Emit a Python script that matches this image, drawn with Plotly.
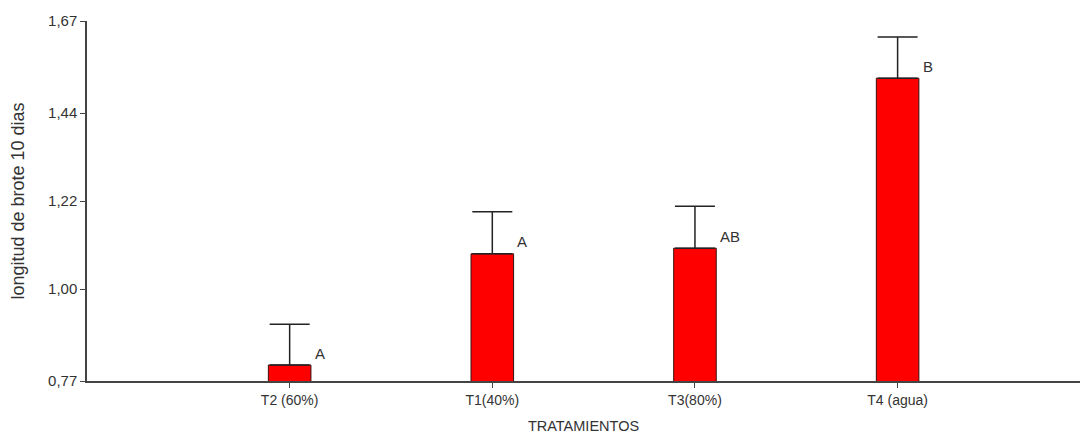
import plotly.graph_objects as go

categories = ["T2 (60%)", "T1(40%)", "T3(80%)", "T4 (agua)"]
means = [0.81, 1.088, 1.102, 1.527]
errors = [0.102, 0.105, 0.105, 0.103]
letters = ["A", "A", "AB", "B"]
ytick_vals = [0.77, 1.00, 1.22, 1.44, 1.67]
ytick_text = ["0,77", "1,00", "1,22", "1,44", "1,67"]

xpos = list(range(len(categories)))

fig = go.Figure()
fig.add_trace(go.Bar(
    x=xpos, y=means, width=0.21,
    marker=dict(color="#FF0000", line=dict(color="#3a1010", width=1)),
    error_y=dict(type="data", array=errors, arrayminus=[0]*len(errors),
                 symmetric=False, color="#222222", thickness=1.5, width=20),
))

for xi, m, e, lab in zip(xpos, means, errors, letters):
    fig.add_annotation(x=xi, y=m + 0.03, text=lab, showarrow=False,
                       xanchor="left", xshift=23,
                       font=dict(family="Liberation Sans, Arial", size=15, color="#333333"))

fig.update_layout(
    width=1092, height=434,
    margin=dict(l=79, r=20, t=13, b=61),
    plot_bgcolor="white", paper_bgcolor="white",
    showlegend=False,
    font=dict(family="Liberation Sans, Arial", size=14, color="#333333"),
    xaxis=dict(range=[-1.0, 3.9], tickvals=xpos, ticktext=categories,
               tickfont=dict(size=14), automargin=False,
               showline=True, linecolor="#444444", linewidth=1.5,
               ticks="outside", ticklen=5, tickcolor="#444444",
               showgrid=False, zeroline=False,
               title=dict(text="TRATAMIENTOS", standoff=14,
                          font=dict(size=14.5))),
    yaxis=dict(range=[0.77, 1.67], tickvals=ytick_vals, ticktext=ytick_text,
               tickfont=dict(size=15), automargin=False,
               showline=True, linecolor="#444444", linewidth=1.5,
               ticks="outside", ticklen=5, tickcolor="#444444",
               showgrid=False, zeroline=False,
               title=dict(text="longitud de brote 10 dias", standoff=20,
                          font=dict(size=18))),
)

fig.write_html("out.html")
